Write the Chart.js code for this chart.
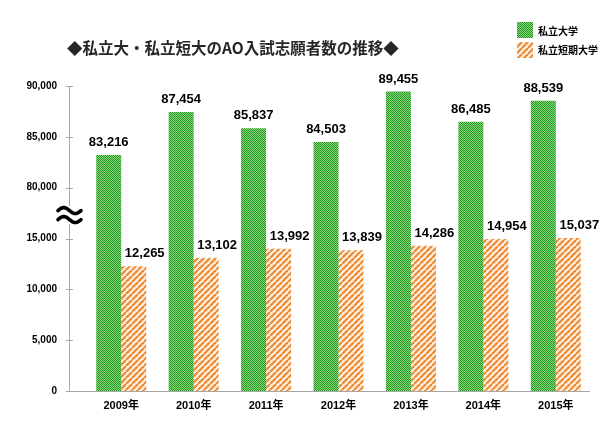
<!DOCTYPE html>
<html><head><meta charset="utf-8">
<script src="https://cdn.jsdelivr.net/npm/chart.js@4/dist/chart.umd.min.js"></script>
<style>html,body{margin:0;padding:0;background:#fff}</style>
</head><body>
<canvas id="c" width="609" height="425"></canvas>
<script>
// ---- data ----
const categories = ['2009年','2010年','2011年','2012年','2013年','2014年','2015年'];
const univApplicants = [83216, 87454, 85837, 84503, 89455, 86485, 88539];
const juniorApplicants = [12265, 13102, 13992, 13839, 14286, 14954, 15037];
const yTickLabels = ['0','5,000','10,000','15,000','80,000','85,000','90,000'];
const seriesNames = ['私立大学','私立短期大学'];
const chartTitle = '◆私立大・私立短大のAO入試志願者数の推移◆';
const BREAK_SHIFT = 60000; // values above the axis break (80,000+) are drawn shifted down

const toAxis = v => v >= 80000 ? v - BREAK_SHIFT : v;
const fmt = v => v.toLocaleString('en-US');

function makeGreen(){
  const c = document.createElement('canvas'); c.width = 2; c.height = 2;
  const g = c.getContext('2d');
  g.fillStyle = '#8fd47f'; g.fillRect(0,0,2,2);
  g.fillStyle = '#1e9a1e'; g.fillRect(0,0,1,1); g.fillRect(1,1,1,1);
  return g.createPattern(c,'repeat');
}
function makeOrange(){
  const c = document.createElement('canvas'); c.width = 6; c.height = 6;
  const g = c.getContext('2d');
  g.fillStyle = '#fff1e2'; g.fillRect(0,0,6,6);
  g.strokeStyle = '#ef8a34'; g.lineWidth = 2.2;
  for (let k=-6;k<=12;k+=6){ g.beginPath(); g.moveTo(k,6); g.lineTo(k+6,0); g.stroke(); }
  return g.createPattern(c,'repeat');
}
const ctx0 = document.getElementById('c').getContext('2d');
const greenPat = makeGreen(), orangePat = makeOrange();

const numFont = '"Liberation Sans", Arial, "Noto Sans CJK JP", sans-serif';
const jpFont = '"Noto Sans CJK JP", "Liberation Sans", sans-serif';

const extras = {
  id: 'extras',
  afterDatasetsDraw(chart){
    const ctx = chart.ctx;
    ctx.save();
    ctx.font = 'bold 13px ' + numFont;
    ctx.fillStyle = '#000';
    ctx.textAlign = 'center';
    ctx.textBaseline = 'bottom';
    const raw = [univApplicants, juniorApplicants];
    chart.data.datasets.forEach((ds, di) => {
      const meta = chart.getDatasetMeta(di);
      meta.data.forEach((bar, i) => {
        const dx = di === 1 ? 11 : 0;
        ctx.fillText(fmt(raw[di][i]), bar.x + dx, bar.y - 6);
      });
    });
    ctx.restore();
  },
  afterDraw(chart){
    const ctx = chart.ctx;
    const y = chart.scales.y;
    const area = chart.chartArea;
    const ax = 69.5;
    ctx.save();
    // axis lines
    ctx.strokeStyle = '#a6a6a6'; ctx.lineWidth = 1;
    ctx.beginPath();
    ctx.moveTo(ax, y.getPixelForValue(30000)); ctx.lineTo(ax, Math.round(area.bottom)+0.5);
    ctx.moveTo(67, Math.round(area.bottom)+0.5); ctx.lineTo(590, Math.round(area.bottom)+0.5);
    y.ticks.forEach(t => {
      const py = Math.round(y.getPixelForValue(t.value)) + 0.5;
      ctx.moveTo(66, py); ctx.lineTo(73, py);
    });
    ctx.stroke();
    // axis break mark
    const yc = (y.getPixelForValue(15000) + y.getPixelForValue(20000)) / 2 + 2;
    ctx.fillStyle = '#fff';
    ctx.fillRect(64, yc - 9, 11, 18);
    ctx.strokeStyle = '#000'; ctx.lineWidth = 3.6; ctx.lineCap = 'round';
    [-4.5, 4.5].forEach(off => {
      ctx.beginPath();
      const x0 = 58, w = 23, A = 3;
      for (let s = 0; s <= 30; s++) {
        const t = s / 30;
        const px = x0 + t * w, py = yc + off - A * Math.sin(2 * Math.PI * t);
        if (s === 0) ctx.moveTo(px, py); else ctx.lineTo(px, py);
      }
      ctx.stroke();
    });
    // title
    ctx.fillStyle = '#262626';
    ctx.font = 'bold 15.5px ' + jpFont;
    ctx.textAlign = 'left'; ctx.textBaseline = 'middle';
    ctx.fillText(chartTitle, 67, 48);
    // legend
    ctx.fillStyle = greenPat; ctx.fillRect(517, 22, 16, 16);
    ctx.fillStyle = orangePat; ctx.fillRect(517, 42, 16, 16);
    ctx.fillStyle = '#000';
    ctx.font = 'bold 10px ' + jpFont;
    ctx.fillText(seriesNames[0], 538, 31);
    ctx.fillText(seriesNames[1], 538, 50);
    ctx.restore();
  }
};

new Chart(ctx0, {
  type: 'bar',
  data: {
    labels: categories,
    datasets: [
      { label: seriesNames[0], data: univApplicants.map(toAxis), backgroundColor: greenPat, borderWidth: 0 },
      { label: seriesNames[1], data: juniorApplicants.map(toAxis), backgroundColor: orangePat, borderWidth: 0 }
    ]
  },
  options: {
    responsive: false, animation: false, devicePixelRatio: 1,
    layout: { padding: { top: 86, right: 17, left: 0, bottom: 0 } },
    datasets: { bar: { categoryPercentage: 0.69, barPercentage: 1.0 } },
    plugins: { legend: { display: false }, title: { display: false }, tooltip: { enabled: false } },
    scales: {
      x: {
        grid: { display: false, drawTicks: false }, border: { display: false },
        ticks: { padding: 8, color: '#000', font: { family: numFont, size: 11, weight: 'bold' } },
        afterFit: s => { s.height = 34; }
      },
      y: {
        min: 0, max: 30000,
        grid: { display: false, drawTicks: false }, border: { display: false },
        ticks: { stepSize: 5000, padding: 28, color: '#000', font: { family: numFont, size: 10, weight: 'bold' },
          callback: (v, i) => yTickLabels[i] },
        afterFit: s => { s.width = 85; }
      }
    }
  },
  plugins: [extras]
});
</script>
</body></html>
